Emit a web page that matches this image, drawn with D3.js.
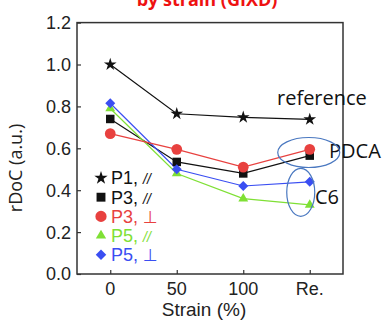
<!DOCTYPE html>
<html>
<head>
<meta charset="utf-8">
<script src="https://cdn.jsdelivr.net/npm/d3@7"></script>
<style>
  body { margin: 0; background: #fff; }
  svg { display: block; }
</style>
</head>
<body>
<svg id="chart" width="383" height="323"></svg>
<script>
// categories on x axis
var strainLabels = ["0", "50", "100", "Re."];
var yTicks = [0.0, 0.2, 0.4, 0.6, 0.8, 1.0, 1.2];

// rDoC values per series
var p1Par  = [1.00, 0.765, 0.748, 0.738];
var p3Par  = [0.74, 0.535, 0.48, 0.565];
var p3Perp = [0.67, 0.595, 0.51, 0.595];
var p5Par  = [0.79, 0.48, 0.36, 0.33];
var p5Perp = [0.815, 0.50, 0.42, 0.44];

var series = [
  {name: "P1", mark: "//", values: p1Par,  color: "#111111", sym: d3.symbolStar,     size: 50},
  {name: "P3", mark: "//", values: p3Par,  color: "#111111", sym: d3.symbolSquare,   size: 72},
  {name: "P3", mark: "\u22A5", values: p3Perp, color: "#e8413f", sym: d3.symbolCircle,   size: 90},
  {name: "P5", mark: "//", values: p5Par,  color: "#7fe035", sym: d3.symbolTriangle, size: 42},
  {name: "P5", mark: "\u22A5", values: p5Perp, color: "#3a4ef2", sym: d3.symbolDiamond2, size: 64}
];
var drawOrder = [0, 1, 3, 4, 2];

var svg = d3.select("#chart");
var axisFont = "Liberation Sans, Arial, sans-serif";
var noteFont = "Open Sans, sans-serif";

var x = d3.scaleLinear().domain([-0.5, 3.5]).range([77, 343]);
var y = d3.scaleLinear().domain([0, 1.2]).range([274, 22.6]);

// title (clipped at top, as in the source slide)
svg.append("text")
  .attr("x", 207).attr("y", 6)
  .attr("text-anchor", "middle")
  .attr("font-family", noteFont)
  .attr("font-weight", "bold")
  .attr("font-size", 18)
  .attr("fill", "#ee1111")
  .text("by strain (GIXD)");

// frame
svg.append("rect")
  .attr("x", x(-0.5)).attr("y", y(1.2))
  .attr("width", x(3.5) - x(-0.5)).attr("height", y(0) - y(1.2))
  .attr("fill", "none").attr("stroke", "#333").attr("stroke-width", 1.5);

// y axis, inward ticks
var gy = svg.append("g")
  .attr("transform", "translate(" + x(-0.5) + ",0)")
  .call(d3.axisRight(y).tickValues(yTicks).tickSize(4).tickFormat(""));
gy.select(".domain").remove();
gy.selectAll("line").attr("stroke", "#333").attr("stroke-width", 1.2);

svg.selectAll(".ylab")
  .data(yTicks)
  .enter().append("text")
    .attr("class", "ylab")
    .attr("x", 71)
    .attr("y", function(d){ return y(d); })
    .attr("dy", "0.36em")
    .attr("text-anchor", "end")
    .attr("font-family", axisFont)
    .attr("font-size", 18)
    .attr("fill", "#222")
    .text(function(d){ return d3.format(".1f")(d); });

// x axis, inward ticks
var gx = svg.append("g")
  .attr("transform", "translate(0," + y(0) + ")")
  .call(d3.axisTop(x).tickValues([0, 1, 2, 3]).tickSize(4).tickFormat(""));
gx.select(".domain").remove();
gx.selectAll("line").attr("stroke", "#333").attr("stroke-width", 1.2);

svg.selectAll(".xlab")
  .data(strainLabels)
  .enter().append("text")
    .attr("class", "xlab")
    .attr("x", function(d, i){ return x(i); })
    .attr("y", 295)
    .attr("text-anchor", "middle")
    .attr("font-family", axisFont)
    .attr("font-size", 18)
    .attr("fill", "#222")
    .text(function(d){ return d; });

// axis titles
svg.append("text")
  .attr("x", 204).attr("y", 316)
  .attr("text-anchor", "middle")
  .attr("font-family", axisFont)
  .attr("font-size", 19)
  .attr("fill", "#222")
  .text("Strain (%)");

svg.append("text")
  .attr("transform", "translate(22,168) rotate(-90)")
  .attr("text-anchor", "middle")
  .attr("font-family", noteFont)
  .attr("font-size", 18)
  .attr("fill", "#222")
  .text("rDoC (a.u.)");

// lines
var line = d3.line()
  .x(function(d, i){ return x(i); })
  .y(function(d){ return y(d); });

drawOrder.forEach(function(k){
  var s = series[k];
  svg.append("path")
    .datum(s.values)
    .attr("fill", "none")
    .attr("stroke", s.color)
    .attr("stroke-width", 1.2)
    .attr("d", line);
});

// markers
drawOrder.forEach(function(k){
  var s = series[k];
  svg.append("g").selectAll("path")
    .data(s.values)
    .enter().append("path")
      .attr("transform", function(d, i){ return "translate(" + x(i) + "," + y(d) + ")"; })
      .attr("d", d3.symbol().type(s.sym).size(s.size))
      .attr("fill", s.color);
});

// legend
var legend = svg.append("g")
  .selectAll("g")
  .data(series)
  .enter().append("g")
    .attr("transform", function(d, i){ return "translate(101," + (178 + i * 19.2) + ")"; });

legend.append("path")
  .attr("d", function(d){ return d3.symbol().type(d.sym).size(d.size * 1.1)(); })
  .attr("fill", function(d){ return d.color; });

var lt = legend.append("text")
  .attr("x", 10)
  .attr("dy", "0.36em")
  .attr("font-family", axisFont)
  .attr("font-size", 18)
  .attr("fill", function(d){ return d.color; });
lt.append("tspan").text(function(d){ return d.name + ", "; });
lt.append("tspan")
  .attr("font-style", function(d){ return d.mark == "//" ? "italic" : "normal"; })
  .attr("font-size", function(d){ return d.mark == "//" ? 14 : 17; })
  .attr("font-family", function(d){ return d.mark == "//" ? axisFont : "DejaVu Sans, sans-serif"; })
  .text(function(d){ return d.mark; });

// annotations
svg.append("text")
  .attr("x", 277).attr("y", 105)
  .attr("font-family", noteFont)
  .attr("font-size", 20)
  .attr("fill", "#111")
  .text("reference");

svg.append("text")
  .attr("x", 329).attr("y", 158)
  .attr("font-family", noteFont)
  .attr("font-size", 20)
  .attr("fill", "#111")
  .text("PDCA");

svg.append("text")
  .attr("x", 315).attr("y", 204)
  .attr("font-family", noteFont)
  .attr("font-size", 20)
  .attr("fill", "#111")
  .text("C6");

svg.append("ellipse")
  .attr("cx", x(3) - 1).attr("cy", y(0.58))
  .attr("rx", 31).attr("ry", 15)
  .attr("fill", "none").attr("stroke", "#4a78c0").attr("stroke-width", 1.2);

svg.append("ellipse")
  .attr("cx", x(3) - 9).attr("cy", y(0.39))
  .attr("rx", 14).attr("ry", 24)
  .attr("fill", "none").attr("stroke", "#4a78c0").attr("stroke-width", 1.2);
</script>
</body>
</html>
